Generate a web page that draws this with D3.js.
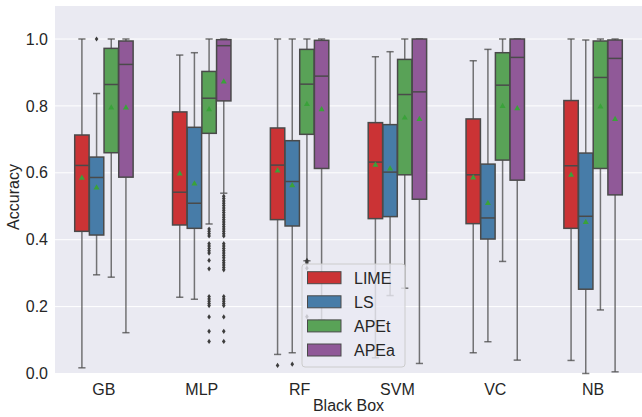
<!DOCTYPE html>
<html><head><meta charset="utf-8">
<script src="https://cdn.jsdelivr.net/npm/d3@7"></script>
<style>body{margin:0;background:#fff}svg{display:block}text{font-family:"Liberation Sans",Arial,sans-serif}</style>
</head><body><svg id="c" width="642" height="417"></svg>
<script>
const blackBoxes = ["GB","MLP","RF","SVM","VC","NB"];
const methods = ["LIME","LS","APEt","APEa"];
const yTicks = [0.0,0.2,0.4,0.6,0.8,1.0];
// [lower whisker, Q1, median, Q3, upper whisker, mean] per black box
const limeStats = [[0.017,0.425,0.622,0.713,1.0,0.585],[0.228,0.444,0.542,0.782,0.952,0.598],[0.057,0.46,0.623,0.734,1.0,0.607],[0.047,0.463,0.632,0.75,0.947,0.624],[0.062,0.448,0.594,0.761,0.935,0.586],[0.039,0.434,0.621,0.816,1.0,0.594]];
const lsStats = [[0.295,0.414,0.586,0.647,0.837,0.556],[0.222,0.434,0.509,0.736,0.959,0.568],[0.062,0.441,0.574,0.696,1.0,0.563],[0.233,0.469,0.602,0.744,0.962,0.613],[0.095,0.402,0.465,0.626,0.969,0.51],[0.0,0.252,0.47,0.659,0.997,0.453]];
const apetStats = [[0.288,0.66,0.864,0.972,1.0,0.795],[0.447,0.718,0.823,0.903,1.0,0.79],[0.337,0.715,0.865,0.969,1.0,0.806],[0.255,0.594,0.834,0.939,1.0,0.765],[0.335,0.638,0.862,0.959,1.0,0.8],[0.19,0.613,0.885,0.994,1.0,0.798]];
const apeaStats = [[0.122,0.587,0.924,0.994,1.0,0.795],[0.539,0.815,0.98,0.998,1.0,0.873],[0.16,0.613,0.889,0.996,1.0,0.79],[0.03,0.521,0.842,1.0,1.0,0.761],[0.04,0.578,0.945,1.0,1.0,0.793],[0.005,0.534,0.942,0.997,1.0,0.761]];
const limeOutliers = [[],[],[0.024],[],[],[]];
const lsOutliers = [[1.0],[],[0.028],[],[],[]];
const apetOutliers = [[],[0.432,0.425,0.418,0.411,0.388,0.381,0.374,0.367,0.36,0.338,0.313,0.23,0.223,0.216,0.209,0.203,0.169,0.126,0.096],[0.338,0.334,0.33,0.315,0.17],[],[],[]];
const apeaOutliers = [[],[0.53,0.523,0.516,0.509,0.502,0.495,0.488,0.481,0.474,0.467,0.46,0.453,0.446,0.439,0.432,0.425,0.418,0.411,0.388,0.381,0.374,0.367,0.36,0.353,0.346,0.338,0.331,0.324,0.317,0.31,0.23,0.223,0.216,0.209,0.203,0.169,0.126,0.096],[],[],[],[]];
const colors = ["#cb3335","#477ca8","#59a257","#905998"];

const statsAll = [limeStats, lsStats, apetStats, apeaStats];
const outAll = [limeOutliers, lsOutliers, apetOutliers, apeaOutliers];

const svg = d3.select("#c");
const L = 55, R = 642, T = 6, B = 373.5;
const x = d3.scaleBand().domain(blackBoxes).range([L, R]).paddingInner(0).paddingOuter(0);
const y = d3.scaleLinear().domain([0, 1.1]).range([B, B - 1.1*334.5]);
const xs = d3.scaleBand().domain(methods).range([0, x.bandwidth()*0.6]);
const off = x.bandwidth()*0.2;

svg.append("rect").attr("x",L).attr("y",T).attr("width",R-L).attr("height",B-T).attr("fill","#eaeaf2");
svg.append("g").selectAll("line").data(yTicks).join("line")
  .attr("x1",L).attr("x2",R).attr("y1",d=>y(d)).attr("y2",d=>y(d))
  .attr("stroke","#fff").attr("stroke-width",1);

const yAxis = d3.axisLeft(y).tickValues(yTicks).tickFormat(d3.format(".1f")).tickSize(0).tickPadding(7);
const gy = svg.append("g").attr("transform",`translate(${L},0)`).call(yAxis);
gy.select(".domain").remove();
gy.selectAll("text").attr("font-size",16).attr("fill","#262626");

const xAxis = d3.axisBottom(x).tickSize(0).tickPadding(10);
const gx = svg.append("g").attr("transform",`translate(0,${B})`).call(xAxis);
gx.select(".domain").remove();
gx.selectAll("text").attr("font-size",16).attr("fill","#262626");

svg.append("text").attr("x",(L+R)/2).attr("y",411).attr("text-anchor","middle").attr("font-size",16).attr("fill","#262626").text("Black Box");
svg.append("text").attr("transform","translate(19,197) rotate(-90)").attr("text-anchor","middle").attr("font-size",16).attr("fill","#262626").text("Accuracy");

const lineCol = "#4a4a4a";
const g = svg.append("g");
methods.forEach((m, mi) => {
  blackBoxes.forEach((bb, bi) => {
    const s = statsAll[mi][bi];
    const bw = xs.bandwidth()*0.98;
    const x0 = x(bb) + off + xs(m) + (xs.bandwidth()-bw)/2;
    const cx = x0 + bw/2;
    const cap = bw/2;
    // whiskers
    g.append("line").attr("x1",cx).attr("x2",cx).attr("y1",y(s[0])).attr("y2",y(s[1])).attr("stroke",lineCol).attr("stroke-width",1.5).attr("opacity",0.75);
    g.append("line").attr("x1",cx).attr("x2",cx).attr("y1",y(s[3])).attr("y2",y(s[4])).attr("stroke",lineCol).attr("stroke-width",1.5).attr("opacity",0.75);
    g.append("line").attr("x1",cx-cap/2).attr("x2",cx+cap/2).attr("y1",y(s[0])).attr("y2",y(s[0])).attr("stroke",lineCol).attr("stroke-width",1.5).attr("opacity",0.75);
    g.append("line").attr("x1",cx-cap/2).attr("x2",cx+cap/2).attr("y1",y(s[4])).attr("y2",y(s[4])).attr("stroke",lineCol).attr("stroke-width",1.5).attr("opacity",0.75);
    // box
    g.append("rect").attr("x",x0).attr("y",y(s[3])).attr("width",bw).attr("height",y(s[1])-y(s[3]))
      .attr("fill",colors[mi]).attr("stroke",lineCol).attr("stroke-width",1.5);
    g.append("line").attr("x1",x0).attr("x2",x0+bw).attr("y1",y(s[2])).attr("y2",y(s[2])).attr("stroke",lineCol).attr("stroke-width",1.5);
    // mean
    const ty = y(s[5]);
    g.append("path").attr("d",`M${cx},${ty-3.2}L${cx+3},${ty+2}L${cx-3},${ty+2}Z`).attr("fill","#3aa23a");
    // outliers
    outAll[mi][bi].forEach(v => {
      const oy = y(v);
      g.append("path").attr("d",`M${cx},${oy-2.6}L${cx+1.8},${oy}L${cx},${oy+2.6}L${cx-1.8},${oy}Z`).attr("fill","#3d3d3d");
    });
  });
});

// legend
const lg = svg.append("g");
lg.append("rect").attr("x",302).attr("y",264).attr("width",103).attr("height",103).attr("rx",3)
  .attr("fill","#eaeaf2").attr("fill-opacity",0.8).attr("stroke","#cccccc").attr("stroke-width",1);
methods.forEach((m, i) => {
  const cy = 277.7 + i*24.1;
  lg.append("rect").attr("x",307.5).attr("y",cy-6).attr("width",33.5).attr("height",12)
    .attr("fill",colors[i]).attr("stroke",lineCol).attr("stroke-width",1);
  lg.append("text").attr("x",354).attr("y",cy+6).attr("font-size",16).attr("fill","#262626").text(m);
});
</script></body></html>
